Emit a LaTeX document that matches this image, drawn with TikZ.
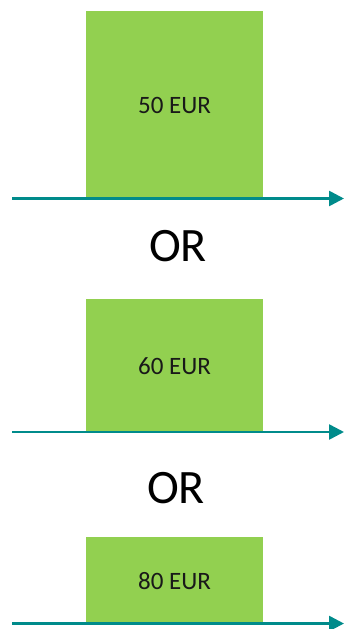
\documentclass[tikz,border=0pt]{standalone}
\usepackage{fontspec}
\setmainfont{Carlito}
\usetikzlibrary{arrows.meta}
\definecolor{boxgreen}{RGB}{146,208,80}
\definecolor{axisteal}{RGB}{0,139,139}
\tikzset{
  pricebox/.style={fill=boxgreen, draw=none, inner sep=0pt, font=\fontsize{25}{30}\selectfont, text=black!90},
  timeline/.style={axisteal, line width=2.6pt, -{Triangle[length=15pt,width=15pt]}},
  orlabel/.style={font=\fontsize{48}{56}\selectfont, text=black, inner sep=0pt}
}
\begin{document}
\begin{tikzpicture}[x=1pt,y=-1pt]
\useasboundingbox (0,0) rectangle (344,629);
% boxes
\node[pricebox, minimum width=177pt, minimum height=188pt] (b1) at (174.5,105) {50 EUR};
\node[pricebox, minimum width=177pt, minimum height=134pt] (b2) at (174.5,366) {60 EUR};
\node[pricebox, minimum width=177pt, minimum height=88pt] (b3) at (174.5,581) {80 EUR};
% timelines
\coordinate (s1) at (12,198.5); \coordinate (e1) at (344,198.5);
\coordinate (s2) at (12,432); \coordinate (e2) at (344,432);
\coordinate (s3) at (12,623.5); \coordinate (e3) at (344,623.5);
\draw[timeline] (s1) -- (e1);
\draw[timeline] (s2) -- (e2);
\draw[timeline] (s3) -- (e3);
% redraw boxes over line (box sits above line)
\node[orlabel] (or1) at (178,246) {OR};
\node[orlabel] (or2) at (176,488) {OR};
\end{tikzpicture}
\end{document}
